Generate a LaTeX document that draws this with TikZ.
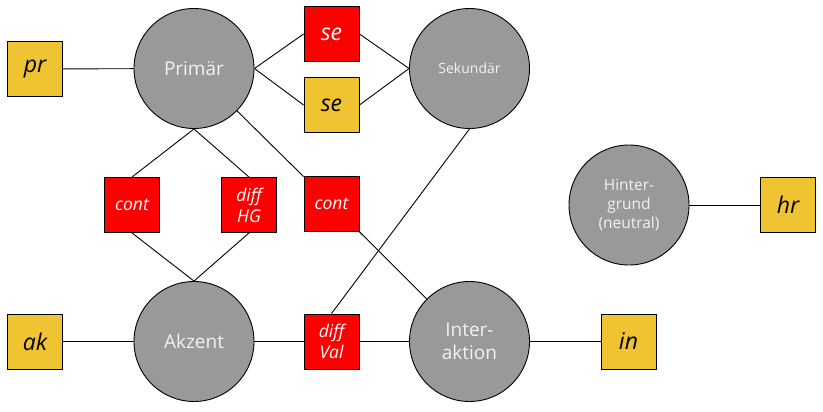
\documentclass[tikz,border=0pt]{standalone}
\usepackage{fontspec}
\setmainfont{Open Sans}
\usepackage{tikz}
\usetikzlibrary{shapes,arrows}
\usetikzlibrary{positioning}
\definecolor{circ_gray}{HTML}{999999}
\definecolor{circ_text}{HTML}{F2F2F2}
\definecolor{box_yellow}{HTML}{F0C332}
\definecolor{box_red}{HTML}{FF0000}

\begin{document}
\begin{tikzpicture}[x=1pt, y=-1pt, line width=0.9pt,
	main_node/.style={circle,fill=circ_gray,draw,minimum size=120pt,inner sep=0pt,text=circ_text,align=center,font=\fontsize{19}{23}\selectfont},
	yellow_node/.style={rectangle,fill=box_yellow,draw,minimum size=55pt,inner sep=0pt,font=\fontsize{23}{27}\selectfont\itshape},
	red_node/.style={rectangle,fill=box_red,draw,minimum size=55pt,inner sep=0pt,text=white,align=center,font=\fontsize{17.5}{21}\selectfont\itshape}]
				
				\useasboundingbox (0,0) rectangle (823,412);
				
				\node[main_node] (prim) at (194, 68.5) {Primär};
				\node[main_node, font=\fontsize{14}{17}\selectfont] (sek) at (469.5, 68.5) {Sekundär};
				\node[main_node, font=\fontsize{15.5}{19}\selectfont] (hint) at (629, 205) {Hinter-\\grund\\(neutral)};
				\node[main_node] (akz) at (194, 341.5) {Akzent};
				\node[main_node] (inter) at (469.5, 341.5) {Inter-\\aktion};
				
				\node[yellow_node] (pr) at (35, 69) {pr};
				\node[red_node, font=\fontsize{23}{27}\selectfont\itshape] (se_r) at (331.5, 34) {se};
				\node[yellow_node] (se_y) at (331.5, 105) {se};
				\node[red_node] (cont_a) at (132, 205) {cont};
				\node[red_node] (diff_hg) at (249, 205) {diff\\HG};
				\node[red_node] (cont_i) at (331.5, 204) {cont};
				\node[yellow_node] (hr) at (788, 205) {hr};
				\node[yellow_node] (ak) at (35, 341.5) {ak};
				\node[red_node] (diff_val) at (331.5, 341.5) {diff\\Val};
				\node[yellow_node] (in) at (628.5, 341.5) {in};
				
				\path[every node/.style={}]
				(pr) edge              node {} (prim)
				(prim.east) edge       node {} (se_r.west)
				(prim.east) edge       node {} (se_y.west)
				(se_r.east) edge       node {} (sek.west)
				(se_y.east) edge       node {} (sek.west)
				(prim.south) edge      node {} (cont_a.north)
				(prim.south) edge      node {} (diff_hg.north)
				(prim) edge            node {} (cont_i)
				(cont_i) edge          node {} (inter)
				(cont_a.south) edge    node {} (akz.north)
				(diff_hg.south) edge   node {} (akz.north)
				(sek.south) edge       node {} (diff_val.north)
				(ak) edge              node {} (akz)
				(akz) edge             node {} (diff_val)
				(diff_val) edge        node {} (inter)
				(inter) edge           node {} (in)
				(hint) edge            node {} (hr);
			\end{tikzpicture}
\end{document}
